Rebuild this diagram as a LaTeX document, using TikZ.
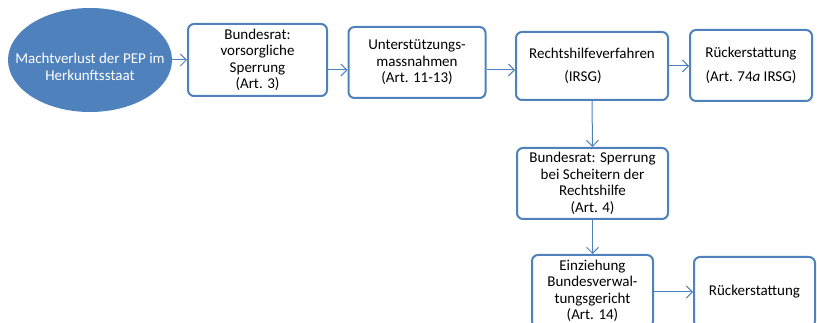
\documentclass[tikz,border=0pt]{standalone}
\usepackage{fontspec}
\setmainfont{Carlito}
\usetikzlibrary{arrows.meta,shapes.geometric}
\definecolor{accent}{HTML}{4F81BD}
\tikzset{
  box/.style={draw=accent, line width=2pt, rounded corners=6pt, fill=white,
    align=center, inner sep=1pt, font=\fontsize{15}{16.5}\selectfont},
  arr/.style={draw=accent, line width=1pt, -{Straight Barb[length=6pt,width=12pt]}},
}
\begin{document}
\begin{tikzpicture}[x=1pt,y=-1pt]
\useasboundingbox (0,0) rectangle (817,323);
\clip (0,0) rectangle (817,323);
\node[ellipse, fill=accent, minimum width=164pt, minimum height=104pt, inner sep=0pt] (e) at (90,60) {};
\node[align=center, text=white, font=\fontsize{15}{16.5}\selectfont] (et) at (90,67) {Machtverlust der PEP im\\Herkunftsstaat};
\node[box, minimum width=139pt, minimum height=72pt] (b1) at (257.5,60) {Bundesrat:\\vorsorgliche\\Sperrung\\(Art. 3)};
\node[box, minimum width=137pt, minimum height=71pt] (b2) at (417,62.5) {Unterstützungs-\\massnahmen\\(Art. 11-13)};
\node[box, minimum width=152pt, minimum height=68pt] (b3) at (592,66) {Rechtshilfeverfahren\\[7pt]\hspace*{-18pt}(IRSG)};
\node[box, minimum width=122pt, minimum height=71pt] (b4) at (751,65.5) {Rückerstattung\\[7pt](Art. 74\textit{a} IRSG)};
\node[box, minimum width=151pt, minimum height=71pt] (b5) at (592.5,183.5) {Bundesrat: Sperrung\\bei Scheitern der\\Rechtshilfe\\(Art. 4)};
\node[box, minimum width=121pt, minimum height=72pt] (b6) at (592.5,291) {Einziehung\\Bundesverwal-\\tungsgericht\\(Art. 14)};
\node[box, minimum width=121pt, minimum height=70pt] (b7) at (754.5,292) {Rückerstattung};
\draw[arr] (e.east) -- (b1.west);
\draw[arr] ([yshift=-10pt]b1.east) -- ([yshift=-10pt]b1.east -| b2.west);
\draw[arr] ([yshift=-7.5pt]b2.east) -- ([yshift=-7.5pt]b2.east -| b3.west);
\draw[arr] (b3.east) -- (b3.east -| b4.west);
\draw[arr] (b3.south) -- (b5.north);
\draw[arr] (b5.south) -- (b6.north);
\draw[arr] ([yshift=-1pt]b6.east) -- ([yshift=-1pt]b6.east -| b7.west);
\end{tikzpicture}
\end{document}
